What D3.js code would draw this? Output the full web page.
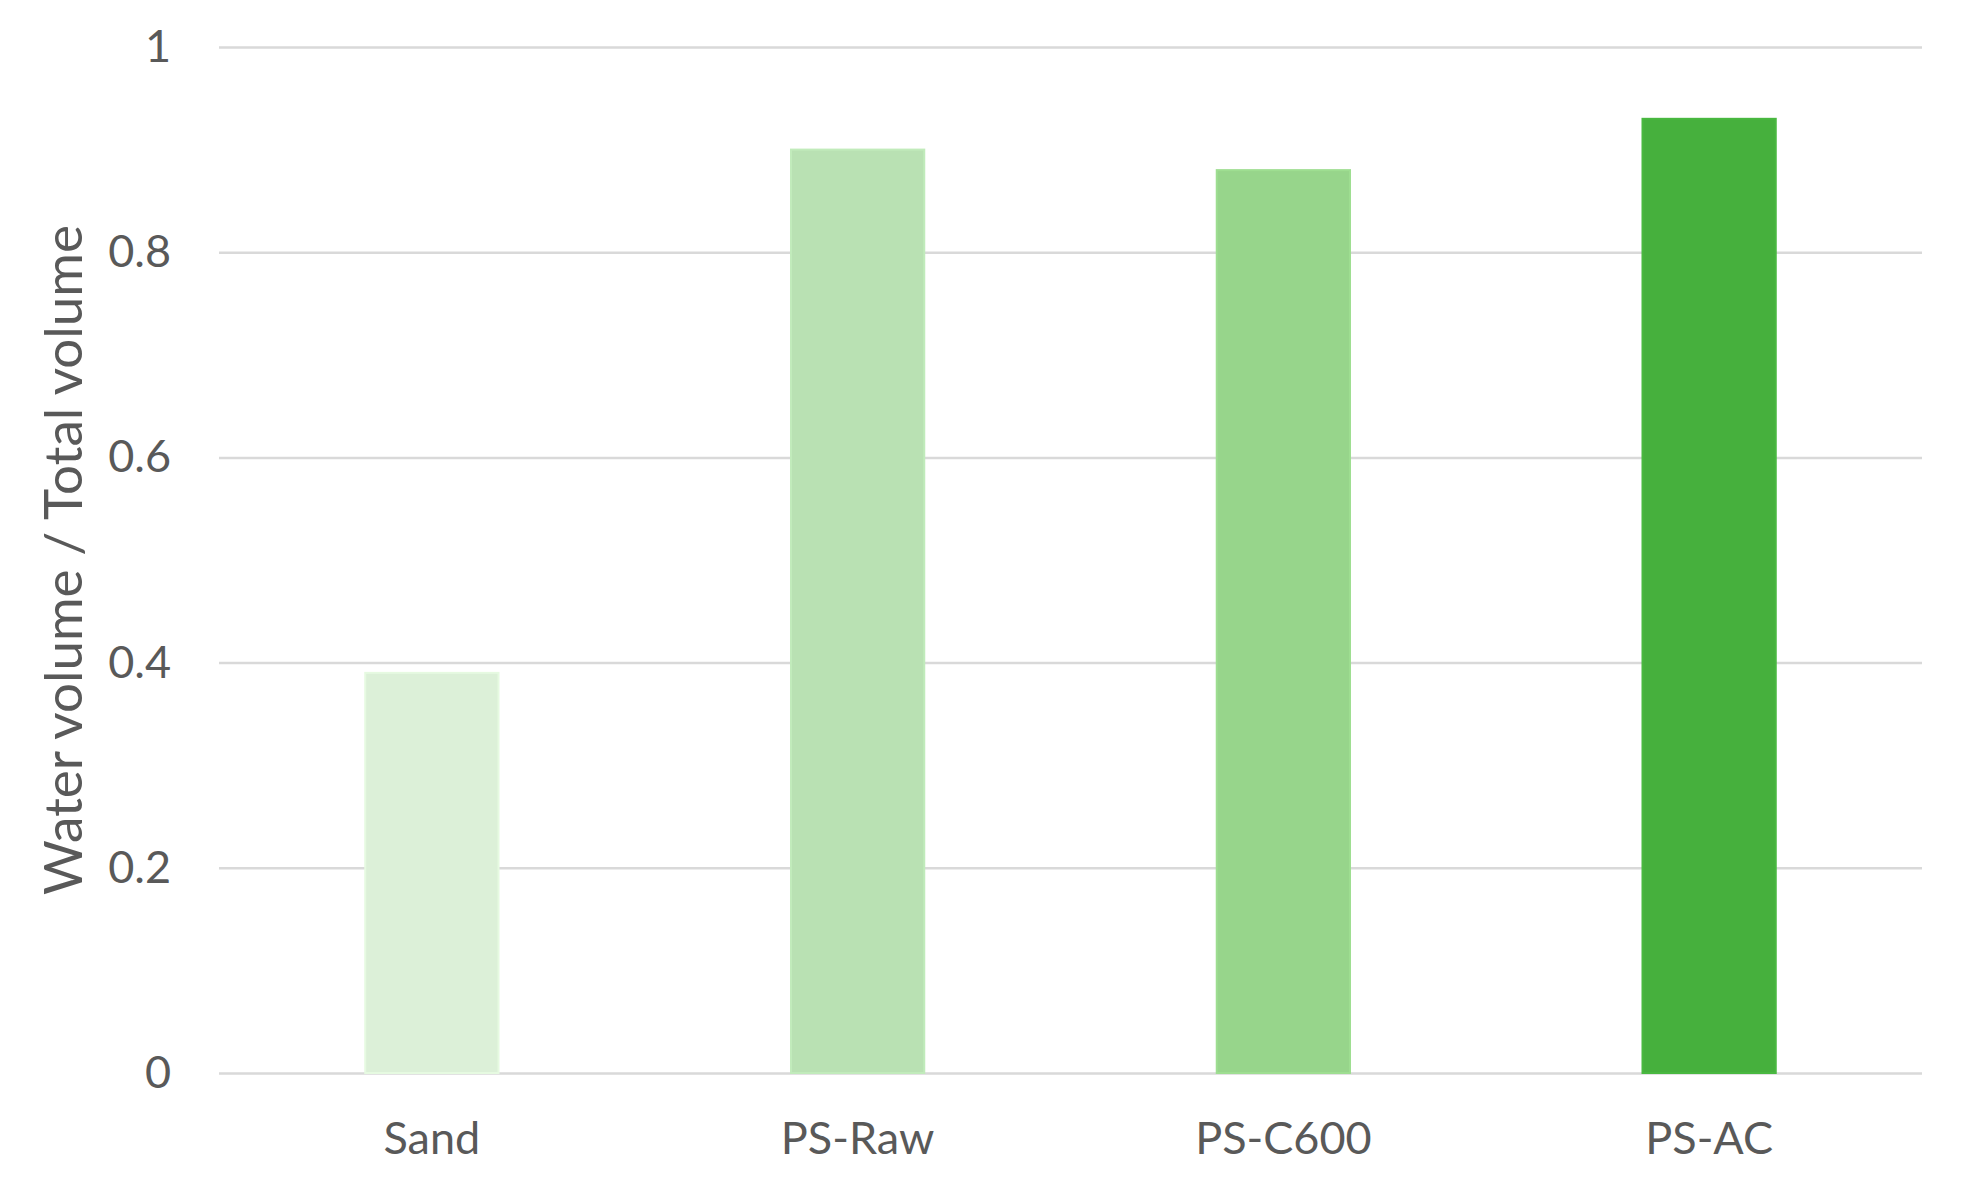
<!DOCTYPE html>
<html>
<head>
<meta charset="utf-8">
<script src="https://cdn.jsdelivr.net/npm/d3@7"></script>
<style>
  body { margin: 0; background: #fff; }
  text { font-family: Lato, "Open Sans", sans-serif; fill: #595959; }
</style>
</head>
<body>
<div id="chart"></div>
<script>
// chart data
const categories = ["Sand", "PS-Raw", "PS-C600", "PS-AC"];
const values = [0.39, 0.90, 0.88, 0.93];
const barColors = ["#dcf0d8", "#b9e1b3", "#97d58b", "#46b03d"];
const yTicks = [0, 0.2, 0.4, 0.6, 0.8, 1];
const yTitle = "Water volume / Total volume";

const W = 1965, H = 1184;
const margin = { top: 47, right: 43, bottom: 111, left: 219 };
const width = W - margin.left - margin.right;
const height = H - margin.top - margin.bottom;

const x = d3.scaleBand()
  .domain(categories)
  .range([0, width])
  .paddingInner(0.687)
  .paddingOuter(0.3435);

const y = d3.scaleLinear()
  .domain([0, 1])
  .range([height, 0]);

const svg = d3.select('#chart')
  .append('svg')
  .attr('width', W)
  .attr('height', H);

const g = svg.append('g')
  .attr('transform', 'translate(' + margin.left + ',' + margin.top + ')');

// gridlines + y labels
const yAxis = g.append('g')
  .call(d3.axisLeft(y).tickValues(yTicks).tickFormat(d => String(d))
    .tickSize(-width).tickPadding(48));
yAxis.select('.domain').remove();
yAxis.selectAll('.tick line')
  .attr('stroke', '#d9d9d9')
  .attr('stroke-width', 2.5);
yAxis.selectAll('.tick text')
  .attr('font-size', 45)
  .attr('fill', '#595959');

// bars
g.selectAll('.bar')
  .data(values)
  .enter().append('rect')
  .attr('class', 'bar')
  .attr('x', (d, i) => x(categories[i]))
  .attr('width', x.bandwidth())
  .attr('y', d => y(d))
  .attr('height', d => height - y(d))
  .attr('fill', (d, i) => barColors[i])
  .attr('stroke', (d, i) => d3.color(barColors[i]).brighter(0.12))
  .attr('stroke-width', 2);

// x labels
const xAxis = g.append('g')
  .attr('transform', 'translate(0,' + height + ')')
  .call(d3.axisBottom(x).tickSize(0).tickPadding(49));
xAxis.select('.domain').remove();
xAxis.selectAll('.tick text')
  .attr('font-size', 45)
  .attr('fill', '#595959');

// y title
svg.append('text')
  .attr('transform', 'translate(82,' + (margin.top + height / 2) + ') rotate(-90)')
  .attr('text-anchor', 'middle')
  .attr('font-size', 53)
  .text(yTitle);
</script>
</body>
</html>
